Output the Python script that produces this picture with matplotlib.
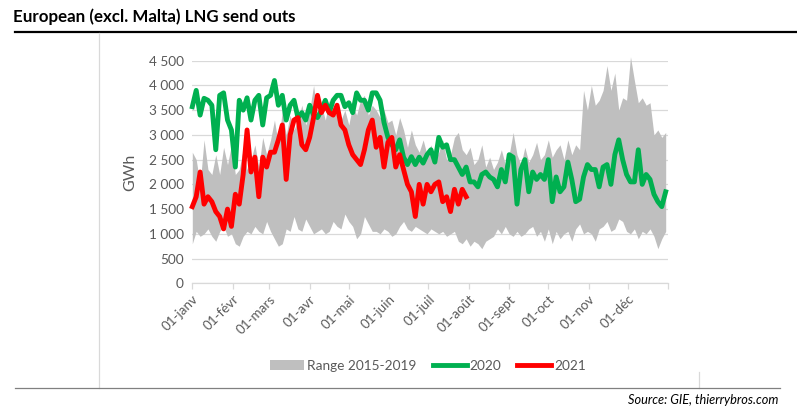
import numpy as np
import matplotlib
matplotlib.use("Agg")
import matplotlib.pyplot as plt
from matplotlib.lines import Line2D
from matplotlib.patches import Patch

plt.rcParams['font.family'] = ['Lato', 'DejaVu Sans']

# ---------------- data (every 3 days) ----------------
days = np.arange(0, 365, 3)          # day of year (0 = 1 Jan)
days_2021 = np.arange(0, 211, 3)

range_max = [2650, 2500, 2000, 2900, 2300, 2200, 2600, 2200, 2750, 2400, 2800, 2200,
             2300, 2700, 2300, 2500, 2800, 2350, 2950, 2600, 2900, 3300, 2800, 3500,
             3000, 3400, 3100, 3300, 3600, 3200, 3500, 4000, 3400, 3600, 3300, 3700,
             3400, 3600, 3300, 3500, 3200, 3600, 3400, 3700, 3800, 3400, 3600, 3500,
             3350, 3500, 3250, 3300, 3000, 3350, 3100, 2750, 3100, 2800, 2650, 2900,
             2600, 2800, 2500, 2650, 2900, 2500, 2600, 2950, 3050, 2700, 2600, 2750,
             2400, 2500, 2800, 2350, 2550, 2300, 2450, 2700, 2400, 2600, 3050, 2600,
             2400, 2750, 2450, 2600, 2850, 2500, 2600, 2900, 2550, 2700, 2800, 2500,
             2900, 2600, 2800, 2700, 3900, 3500, 4000, 3600, 3700, 3900, 4400, 3900,
             4250, 3500, 3750, 3700, 4580, 4100, 3650, 3750, 3600, 3650, 3000, 3100,
             2950, 3050]

range_min = [800, 1050, 950, 1000, 1100, 950, 850, 1050, 1150, 950, 1000, 800,
             750, 950, 1050, 1000, 1150, 1050, 1000, 1250, 1050, 900, 750, 800,
             1100, 1050, 1350, 1100, 1050, 1300, 1150, 1000, 1050, 1100, 1000, 1050,
             1250, 1150, 1100, 1400, 1250, 1150, 900, 1000, 1350, 1200, 1050, 1050,
             1000, 1100, 1050, 950, 1000, 1150, 1250, 1100, 1050, 1150, 1100, 1050,
             1000, 1100, 1050, 1000, 1050, 950, 1000, 1050, 850, 800, 900, 750,
             850, 800, 700, 850, 900, 950, 1100, 1000, 1150, 1000, 950, 1050,
             950, 1000, 1100, 1150, 950, 1050, 850, 1100, 800, 1050, 900, 1000,
             1050, 850, 1100, 1200, 1000, 1050, 1000, 850, 1100, 1150, 1250, 1050,
             1100, 1300, 1250, 1050, 1000, 1100, 900, 1050, 1000, 1100, 950, 700,
             900, 1050]

y2020 = [3570, 3900, 3400, 3740, 3700, 3600, 2700, 3800, 3850, 3300, 3100, 2350,
         3700, 3500, 3750, 3300, 3700, 3800, 3200, 3750, 3800, 4100, 3600, 3800,
         3300, 3600, 3700, 3350, 3450, 3300, 3600, 3400, 3350, 3500, 3700, 3450,
         3700, 3800, 3800, 3570, 3650, 3450, 3850, 3700, 3700, 3500, 3850, 3850,
         3700, 3250, 2950, 2800, 2700, 2900, 2550, 2400, 2560, 2400, 2550, 2430,
         2600, 2700, 2450, 2950, 2750, 2800, 2500, 2500, 2350, 2200, 2350, 2050,
         2050, 1950, 2200, 2250, 2150, 2100, 1950, 2300, 2050, 2600, 2550, 1600,
         2300, 2500, 1850, 2250, 2100, 2200, 2100, 2500, 1650, 2150, 1850, 1950,
         2450, 2100, 1650, 1700, 2150, 2400, 2300, 2300, 1950, 2350, 2400, 2000,
         2600, 2900, 2500, 2200, 2050, 2050, 2700, 2000, 2200, 2100, 1800, 1650,
         1550, 1850]

y2021 = [1550, 1750, 2250, 1600, 1750, 1650, 1450, 1350, 1100, 1500, 1150, 1800,
         1600, 2200, 3100, 2250, 2550, 1750, 2550, 2350, 2650, 2650, 2900, 3200,
         2100, 3000, 3300, 3350, 2800, 2700, 2950, 3350, 3800, 3450, 3600, 3450,
         3400, 3600, 3200, 3100, 2800, 2600, 2500, 2400, 2700, 3100, 3300, 2750,
         2950, 2350, 2850, 2950, 2350, 2600, 2300, 2000, 1850, 1350, 2000, 1600,
         2000, 1850, 2000, 2050, 1650, 1750, 1450, 1900, 1600, 1900, 1750]

month_starts = [0, 31, 59, 90, 120, 151, 181, 212, 243, 273, 304, 334, 365]
month_labels = ['01-janv', '01-févr', '01-mars', '01-avr', '01-mai', '01-juin',
                '01-juil', '01-août', '01-sept', '01-oct', '01-nov', '01-déc']
y_ticks = [0, 500, 1000, 1500, 2000, 2500, 3000, 3500, 4000, 4500]

# ---------------- figure ----------------
W, H = 797, 416
fig = plt.figure(figsize=(W / 100, H / 100), dpi=100)
fig.patch.set_facecolor('white')

def fx(px):
    return px / W

def fy(py):
    return 1 - py / H

ax = fig.add_axes([fx(192.3), fy(283.3), fx(668.3) - fx(192.3), fy(60.7) - fy(283.3)])

grey_txt = '#595959'
ax.fill_between(days, range_min, range_max, color='#BFBFBF', lw=0, clip_on=False, zorder=2)
ax.plot(days, y2020, color='#00B050', lw=3.5, solid_joinstyle='round', zorder=3, clip_on=False)
ax.plot(days_2021, y2021, color='#FF0000', lw=3.5, solid_joinstyle='round', zorder=4, clip_on=False)

ax.set_xlim(0, 365)
ax.set_ylim(0, 4500)
ax.set_yticks(y_ticks)
ax.set_yticklabels([f"{v:,}".replace(',', '\u00a0') for v in y_ticks], color=grey_txt, fontsize=9.8)
ax.yaxis.grid(True, color='#D9D9D9', lw=0.9, zorder=0)
ax.set_axisbelow(True)
ax.tick_params(axis='y', length=0, pad=6)

ax.set_xticks(month_starts)
ax.set_xticklabels(month_labels + [''], color=grey_txt, fontsize=9.6,
                   rotation=45, ha='right', va='top', rotation_mode='anchor')
ax.tick_params(axis='x', length=4, color='#D9D9D9', width=0.9, pad=3)

for s in ['top', 'right', 'left']:
    ax.spines[s].set_visible(False)
ax.spines['bottom'].set_color('#D9D9D9')
ax.spines['bottom'].set_linewidth(0.9)

ax.set_ylabel('GWh', color=grey_txt, fontsize=11.5, labelpad=8)

# legend
handles = [Patch(facecolor='#BFBFBF', edgecolor='none'),
           Line2D([0], [0], color='#00B050', lw=3.5),
           Line2D([0], [0], color='#FF0000', lw=3.5)]
leg = fig.legend(handles, ['Range 2015-2019', '2020', '2021'], loc='center',
                 bbox_to_anchor=(fx(428), fy(366)), ncol=3, frameon=False,
                 fontsize=9.8, handlelength=2.5, handletextpad=0.2, columnspacing=1.2,
                 handleheight=0.8)
for t in leg.get_texts():
    t.set_color(grey_txt)

# title, frame lines, source
fig.text(fx(13), fy(17), 'European (excl. Malta) LNG send outs', fontsize=12.2,
         fontweight='bold', ha='left', va='center', color='black')
fig.add_artist(Line2D([fx(15), fx(797)], [fy(32), fy(32)], color='black', lw=1.6))
fig.add_artist(Line2D([fx(99), fx(99)], [fy(33), fy(388)], color='#D9D9D9', lw=0.9))
fig.add_artist(Line2D([fx(699), fx(699)], [fy(372), fy(388)], color='#D9D9D9', lw=0.9))
fig.add_artist(Line2D([fx(15), fx(780)], [fy(388), fy(388)], color='#808080', lw=0.9))
fig.text(fx(778), fy(400), 'Source: GIE, thierrybros.com', fontsize=9.2,
         style='italic', ha='right', va='center', color='black')

fig.savefig('out.png', dpi=100, facecolor='white')
